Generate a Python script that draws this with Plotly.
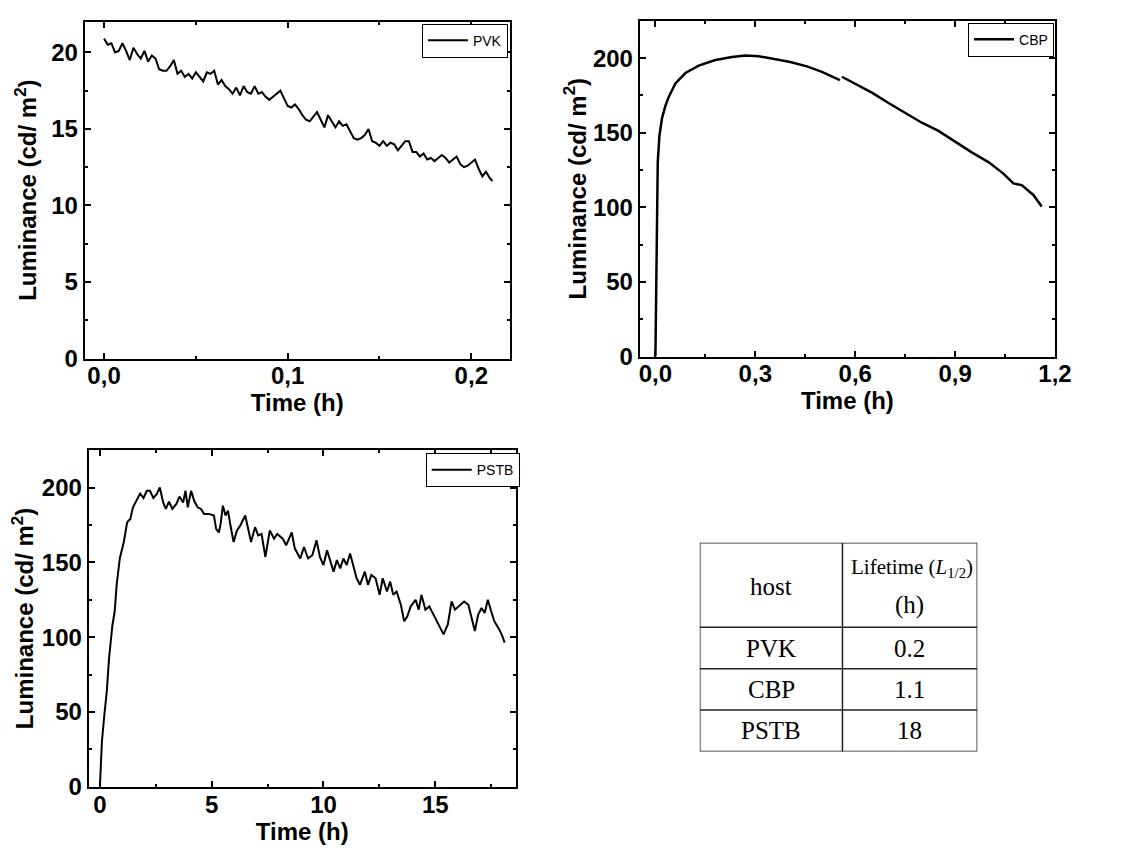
import plotly.graph_objects as go

# PVK: luminance (cd/m2) vs time (h), one reading every 0.002 h
pvk_time = [round(i * 0.002, 4) for i in range(106)] + [0.2115]
pvk_lum = [20.9, 20.5, 20.6, 20.0, 20.1, 20.6, 20.1, 19.5, 20.3, 19.9,
           19.6, 20.1, 19.4, 19.8, 19.6, 18.9, 18.8, 18.8, 19.1, 19.5,
           18.6, 18.8, 18.4, 18.6, 18.3, 18.7, 18.4, 18.1, 18.7, 18.6,
           18.8, 17.9, 18.2, 17.8, 17.6, 17.3, 17.7, 17.2, 17.8, 17.4,
           17.3, 17.8, 17.3, 17.4, 17.1, 16.9, 17.1, 17.3, 17.5, 17.0,
           16.5, 16.4, 16.6, 16.3, 15.9, 15.6, 15.5, 15.8, 16.1, 15.6,
           15.1, 15.9, 15.5, 15.1, 15.5, 15.2, 15.3, 14.8, 14.4, 14.3,
           14.4, 14.6, 15.0, 14.2, 14.1, 13.9, 14.2, 13.9, 14.1, 14.0,
           13.6, 13.9, 14.2, 14.2, 13.5, 13.5, 13.2, 13.4, 13.0, 13.1,
           12.9, 13.1, 13.3, 13.1, 12.8, 13.0, 13.2, 12.7, 12.5, 12.6,
           12.8, 13.0, 12.4, 11.9, 12.2, 11.8, 11.6]

# CBP (short break in the record near 0.555 h)
cbp_time = [0, 0.002, 0.004, 0.007, 0.012, 0.02, 0.03, 0.04, 0.06, 0.09,
            0.13, 0.18, 0.23, 0.27, 0.31, 0.355, 0.405, 0.455, 0.5, 0.554,
            None, 0.56, 0.6, 0.65, 0.7, 0.75, 0.8, 0.85, 0.9, 0.95,
            1.0, 1.045, 1.075, 1.1, 1.135, 1.16]
cbp_lum = [0, 50, 100, 130, 148, 160, 168, 174, 183, 190,
           195, 198.7, 200.7, 201.7, 201.3, 199.6, 197.4, 194.5, 190.8, 185.3,
           None, 187.5, 183, 176.9, 169.9, 163.3, 156.7, 151.2, 143.9, 136.8,
           130.3, 122.6, 116, 114.9, 108.3, 100.5]

# PSTB
pstb_time = [0, 0.09, 0.19, 0.31, 0.41, 0.56, 0.66, 0.75, 0.89, 1.07,
             1.22, 1.36, 1.48, 1.66, 1.8, 1.95, 2.1, 2.24, 2.39, 2.54,
             2.68, 2.83, 2.95, 3.09, 3.24, 3.42, 3.56, 3.72, 3.83, 3.93,
             4.08, 4.22, 4.37, 4.52, 4.66, 4.88, 5.1, 5.2, 5.32, 5.4,
             5.5, 5.62, 5.73, 5.84, 5.98, 6.13, 6.28, 6.5, 6.64, 6.76,
             6.94, 7.08, 7.23, 7.4, 7.6, 7.79, 7.93, 8.18, 8.33, 8.48,
             8.58, 8.72, 8.96, 9.13, 9.31, 9.5, 9.69, 9.84, 10.0, 10.16,
             10.31, 10.45, 10.6, 10.75, 10.89, 11.04, 11.19, 11.33, 11.48, 11.63,
             11.85, 11.99, 12.14, 12.33, 12.51, 12.65, 12.84, 12.98, 13.12, 13.27,
             13.46, 13.61, 13.75, 13.9, 14.12, 14.26, 14.38, 14.56, 14.73, 14.92,
             15.15, 15.37, 15.56, 15.73, 15.88, 16.1, 16.29, 16.48, 16.63, 16.77,
             16.92, 17.07, 17.21, 17.35, 17.5, 17.64, 17.86, 18.0, 18.1]
pstb_lum = [0, 30, 46.7, 64, 86, 108, 117, 135, 152.6, 163.6,
            176.8, 179, 186.8, 192.3, 196, 193, 197.8, 197.8, 193, 195.6,
            200, 190, 185.7, 190.6, 185.7, 189, 194, 190, 197.8, 186.8,
            197.8, 191, 186.8, 185.7, 182.4, 182.4, 181.3, 172.4, 170, 175.7,
            187.9, 181.3, 184.6, 174.6, 163.6, 171.3, 174.6, 181.3, 172.4, 163.6,
            173.5, 168, 169, 153.7, 171.3, 165.8, 169, 165.8, 161.4, 167,
            170, 159.2, 152.6, 160.3, 152.6, 154.8, 164.7, 153.7, 148.2, 158.1,
            150.4, 143.8, 151.5, 146, 152.6, 148.2, 155.9, 148.2, 139.4, 135,
            143.8, 135, 141.6, 139.4, 128.3, 139.4, 130.5, 137.2, 128.3, 130.5,
            121.7, 110.7, 114, 120.6, 125, 118.4, 128.3, 118.4, 120.6, 115.1,
            108.5, 101.9, 108.5, 123.9, 118.4, 121.7, 123.9, 121.7, 112.9, 104.1,
            115.1, 119.5, 116.2, 125, 117.3, 110.7, 105.2, 100.8, 96.4]

# lifetime table
table_header = ["host", "Lifetime (<i>L</i><sub>1/2</sub>)", "(h)"]
hosts = ["PVK", "CBP", "PSTB"]
lifetimes = ["0.2", "1.1", "18"]

W, H = 1127, 848
SANS = "Liberation Sans, Arial, sans-serif"
SERIF = "Liberation Serif, Times New Roman, serif"

fig = go.Figure()

fig.add_trace(go.Scatter(x=pvk_time, y=pvk_lum, name="PVK", mode="lines",
                         line=dict(color="black", width=2),
                         xaxis="x", yaxis="y", legend="legend"))
fig.add_trace(go.Scatter(x=cbp_time, y=cbp_lum, name="CBP", mode="lines",
                         line=dict(color="black", width=2.5),
                         xaxis="x2", yaxis="y2", legend="legend2"))
fig.add_trace(go.Scatter(x=pstb_time, y=pstb_lum, name="PSTB", mode="lines",
                         line=dict(color="black", width=2),
                         xaxis="x3", yaxis="y3", legend="legend3"))


def axis(domain, rng, dtick, minor, title, standoff, fmt=None):
    a = dict(domain=domain, range=rng, dtick=dtick, tick0=0,
             showline=True, linecolor="black", linewidth=2, mirror="ticks",
             ticks="inside", ticklen=6, tickwidth=2, tickcolor="black",
             minor=dict(dtick=minor, ticks="inside", ticklen=3, tickwidth=1.5, tickcolor="black"),
             showgrid=False, zeroline=False,
             tickfont=dict(family=SANS, size=24, color="black", weight="bold"),
             title=dict(text=title, standoff=standoff,
                        font=dict(family=SANS, size=24, color="black", weight="bold")))
    if fmt:
        a["tickformat"] = fmt
    return a


ylab = "Luminance (cd/ m<sup>2</sup>)"

fig.update_layout(
    width=W, height=H,
    margin=dict(l=0, r=0, t=0, b=0),
    paper_bgcolor="white", plot_bgcolor="white",
    separators=",.",
    showlegend=True,
    xaxis=axis([77 / W, 509 / W], [-0.0105, 0.221], 0.1, 0.05, "Time (h)", 0, ".1f"),
    yaxis=axis([1 - 356 / H, 1 - 14 / H], [0, 22], 5, 2.5, ylab, 8),
    xaxis2=axis([641 / W, 1063 / W], [-0.047, 1.2], 0.3, 0.15, "Time (h)", 0, ".1f"),
    yaxis2=axis([1 - 354 / H, 1 - 13 / H], [0, 225], 50, 25, ylab, 0),
    xaxis3=axis([81 / W, 515 / W], [-0.5, 18.6], 5, 2.5, "Time (h)", 0),
    yaxis3=axis([1 - 791 / H, 1 - 449 / H], [0, 225], 50, 25, ylab, 1),
)
for k in ("xaxis", "xaxis2", "xaxis3"):
    fig.layout[k].ticklabelstandoff = -5
fig.layout.xaxis2.anchor = "y2"
fig.layout.yaxis2.anchor = "x2"
fig.layout.xaxis3.anchor = "y3"
fig.layout.yaxis3.anchor = "x3"

leg = dict(xanchor="right", yanchor="top", bgcolor="white",
           bordercolor="black", borderwidth=1, itemwidth=40,
           font=dict(family=SANS, size=14, color="black"))
fig.update_layout(
    legend=dict(leg, x=507 / W, y=1 - 16 / H),
    legend2=dict(leg, x=1062 / W, y=1 - 15 / H),
    legend3=dict(leg, x=519 / W, y=1 - 452 / H),
)

# table drawn on a hidden axis pair, units = px inside the table box
col_w = [145, 137]
row_h = [86, 42, 42, 42]
tw, th = sum(col_w), sum(row_h)
fig.update_layout(
    xaxis4=dict(domain=[702 / W, (702 + tw) / W], range=[0, tw], visible=False, anchor="y4"),
    yaxis4=dict(domain=[1 - (543 + th) / H, 1 - 543 / H], range=[th, 0], visible=False, anchor="x4"),
)
grid = dict(color="#222222", width=1.5)
ys = [sum(row_h[:i]) for i in range(len(row_h) + 1)]
xs = [0, col_w[0], tw]
for y in ys:
    fig.add_shape(type="line", xref="x4", yref="y4", x0=0, x1=tw, y0=y, y1=y, line=grid)
for x in xs:
    fig.add_shape(type="line", xref="x4", yref="y4", x0=x, x1=x, y0=0, y1=th, line=grid)

tfont = dict(family=SERIF, size=25, color="black")
cx = [col_w[0] / 2, col_w[0] + col_w[1] / 2]
fig.add_annotation(xref="x4", yref="y4", x=cx[0], y=row_h[0] * 0.52, text=table_header[0],
                   showarrow=False, font=tfont)
fig.add_annotation(xref="x4", yref="y4", x=cx[1] + 2, y=row_h[0] * 0.3, text=table_header[1],
                   showarrow=False, font=dict(tfont, size=21))
fig.add_annotation(xref="x4", yref="y4", x=cx[1], y=row_h[0] * 0.74, text=table_header[2],
                   showarrow=False, font=tfont)
for i, (h, v) in enumerate(zip(hosts, lifetimes)):
    yc = ys[i + 1] + row_h[i + 1] / 2
    fig.add_annotation(xref="x4", yref="y4", x=cx[0], y=yc, text=h, showarrow=False, font=tfont)
    fig.add_annotation(xref="x4", yref="y4", x=cx[1], y=yc, text=v, showarrow=False, font=tfont)

fig.write_html("out.html")
